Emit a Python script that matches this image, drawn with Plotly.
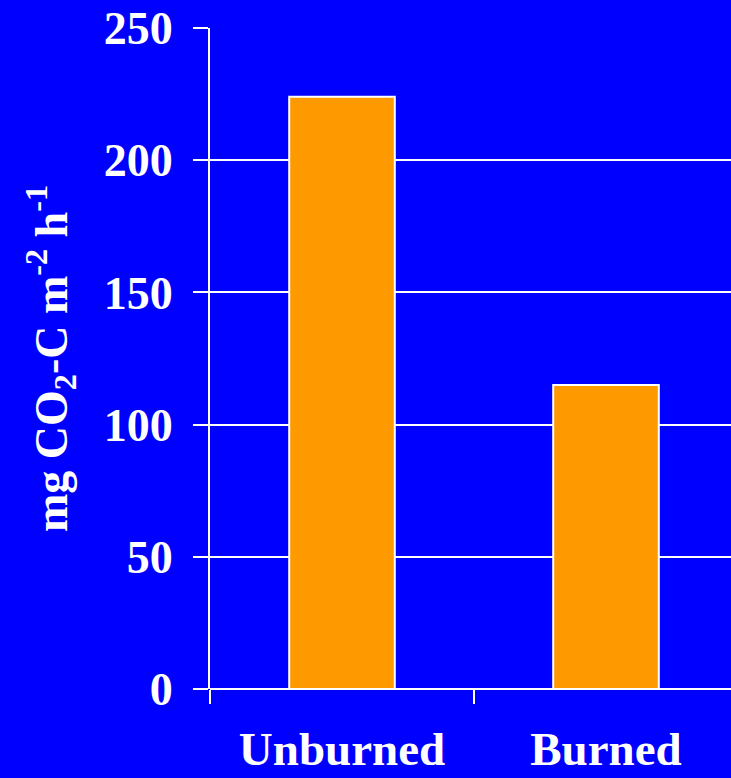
import plotly.graph_objects as go

# Soil CO2 efflux by site treatment
categories = ["Unburned", "Burned"]
co2_flux = [224, 115]
y_ticks = [0, 50, 100, 150, 200, 250]

BLUE = "#0000FF"
ORANGE = "#FF9900"
WHITE = "#FFFFFF"
FONT = "Liberation Serif, Times New Roman, serif"

fig = go.Figure(
    go.Bar(
        x=categories,
        y=co2_flux,
        width=0.4,
        marker=dict(color=ORANGE, line=dict(color=WHITE, width=2)),
    )
)

fig.update_layout(
    width=731,
    height=778,
    margin=dict(l=210, r=0, t=28, b=89),
    paper_bgcolor=BLUE,
    plot_bgcolor=BLUE,
    showlegend=False,
    font=dict(family=FONT, color=WHITE, size=46),
)

fig.update_xaxes(
    type="category",
    range=[-0.5, 1.4735],
    automargin=False,
    tickson="boundaries",
    ticks="outside",
    ticklen=14,
    tickwidth=2,
    tickcolor=WHITE,
    showgrid=False,
    showline=False,
    zeroline=False,
    tickfont=dict(family=FONT, size=47, color=WHITE, weight="bold"),
    ticklabelstandoff=28,
)

fig.update_yaxes(
    range=[0, 250],
    automargin=False,
    tickvals=y_ticks,
    ticktext=[f"<b>{v}</b>" for v in y_ticks],
    ticks="outside",
    ticklen=15,
    tickwidth=2,
    tickcolor=WHITE,
    showgrid=True,
    gridcolor=WHITE,
    gridwidth=2,
    showline=True,
    linecolor=WHITE,
    linewidth=2,
    zeroline=True,
    zerolinecolor=WHITE,
    zerolinewidth=2,
    tickfont=dict(family=FONT, size=46, color=WHITE),
    ticklabelstandoff=11,
    title=dict(
        text="<b>mg CO<sub>2</sub>-C m<sup>-2</sup> h<sup>-1</sup></b>",
        font=dict(family=FONT, size=46, color=WHITE),
        standoff=22,
    ),
)

fig.write_html("out.html")
